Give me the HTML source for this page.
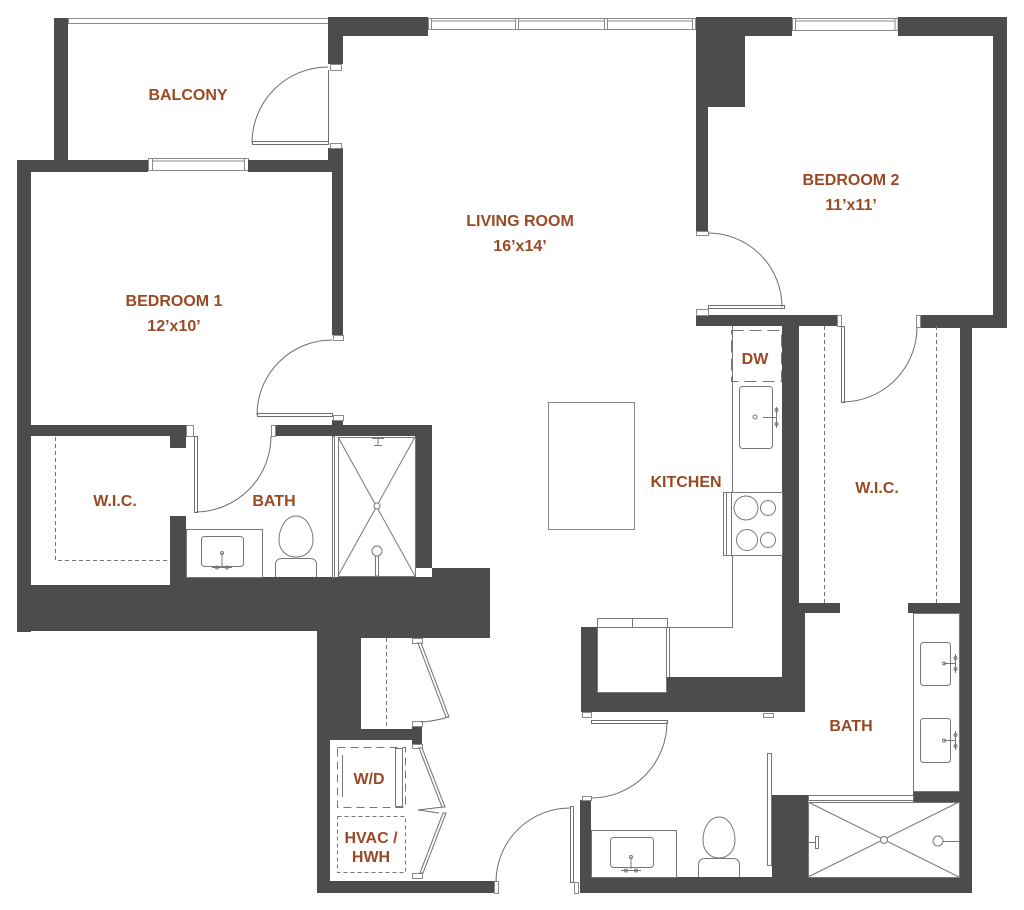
<!DOCTYPE html>
<html><head><meta charset="utf-8"><style>
html,body{margin:0;padding:0;background:#fff;}
svg{display:block;}
text{font-family:"Liberation Sans",sans-serif;font-weight:bold;font-size:16px;fill:#994a25;text-anchor:middle;}
</style></head><body>
<svg width="1024" height="910" viewBox="0 0 1024 910">
<rect width="1024" height="910" fill="#fff"/>
<g fill="#fff" stroke="#8a8a8a" stroke-width="1">
<rect x="68.5" y="18.5" width="260" height="5"/>
<rect x="428.5" y="18.5" width="268" height="11"/><line x1="428" y1="21" x2="696" y2="21"/>
<rect x="428.5" y="18.5" width="3" height="11"/><rect x="515.5" y="18.5" width="3" height="11"/><rect x="604.5" y="18.5" width="3" height="11"/><rect x="692.5" y="18.5" width="3" height="11"/>
<rect x="792.5" y="18.5" width="106" height="12"/><line x1="792" y1="21" x2="898" y2="21"/>
<rect x="792.5" y="18.5" width="3" height="12"/><rect x="895" y="18.5" width="3" height="12"/>
<rect x="148.5" y="158.5" width="100" height="12"/><line x1="148" y1="161" x2="248" y2="161"/>
<rect x="148.5" y="158.5" width="4" height="12"/><rect x="244.5" y="158.5" width="4" height="12"/>
</g>
<g fill="#4e4c4a">
<rect x="54" y="18" width="14" height="154"/>
<rect x="17" y="160" width="131" height="12"/>
<rect x="248" y="160" width="95" height="12"/>
<rect x="17" y="160" width="14" height="472"/>
<rect x="328" y="17" width="100" height="19"/>
<rect x="328" y="17" width="15" height="47"/>
<rect x="328" y="148" width="15" height="24"/>
<rect x="332" y="172" width="11" height="163"/>
<rect x="332" y="420" width="11" height="16"/>
<rect x="31" y="425" width="155" height="11"/>
<rect x="170" y="436" width="16" height="12"/>
<rect x="275" y="425" width="157" height="11"/>
<rect x="415" y="425" width="17" height="143"/>
<rect x="170" y="516" width="16" height="70"/>
<rect x="17" y="585" width="473" height="46"/>
<rect x="186" y="577" width="246" height="9"/>
<rect x="432" y="568" width="58" height="70"/>
<rect x="317" y="630" width="173" height="8"/>
<rect x="317" y="638" width="44" height="102"/>
<rect x="361" y="729" width="61" height="11"/>
<rect x="412" y="726" width="10" height="18"/>
<rect x="317" y="740" width="13" height="153"/>
<rect x="317" y="881" width="177" height="12"/>
<rect x="580" y="800" width="11" height="93"/>
<rect x="580" y="877" width="392" height="16"/>
<rect x="581" y="627" width="16" height="85"/>
<rect x="581" y="692" width="224" height="20"/>
<rect x="667" y="677" width="115" height="15"/>
<rect x="782" y="613" width="23" height="99"/>
<rect x="782" y="326" width="17" height="287"/>
<rect x="799" y="603" width="41" height="10"/>
<rect x="908" y="603" width="52" height="10"/>
<rect x="696" y="315" width="141" height="11"/>
<rect x="920" y="315" width="87" height="13"/>
<rect x="993" y="17" width="14" height="311"/>
<rect x="960" y="315" width="12" height="578"/>
<rect x="696" y="17" width="96" height="19"/>
<rect x="898" y="17" width="109" height="19"/>
<rect x="696" y="17" width="49" height="90"/>
<rect x="696" y="17" width="12" height="214"/>
<rect x="772" y="795" width="36" height="82"/>
<rect x="913" y="791" width="47" height="11"/>
</g>
<g fill="#fff" stroke="#8a8a8a" stroke-width="1">
<rect x="330.5" y="64.5" width="11" height="6"/>
<rect x="330.5" y="143.5" width="11" height="5"/>
<rect x="333.5" y="335.5" width="10" height="5"/>
<rect x="333.5" y="415.5" width="10" height="5"/>
<rect x="186.5" y="425.5" width="7" height="11"/>
<rect x="271.5" y="425.5" width="4" height="11"/>
<rect x="696.5" y="231.5" width="12" height="4"/>
<rect x="696.5" y="309.5" width="12" height="6"/>
<rect x="837.5" y="315.5" width="4" height="11"/>
<rect x="916.5" y="315.5" width="4" height="12"/>
<rect x="412.5" y="638.5" width="10" height="5"/>
<rect x="412.5" y="721.5" width="10" height="5"/>
<rect x="412.5" y="744.5" width="10" height="4"/>
<rect x="412.5" y="873.5" width="10" height="5"/>
<rect x="494.5" y="881.5" width="4" height="12"/>
<rect x="574.5" y="882.5" width="4" height="11"/>
<rect x="582.5" y="712.5" width="9" height="5"/>
<rect x="582.5" y="796.5" width="9" height="4"/>
<rect x="763.5" y="713.5" width="10" height="4"/>
</g>
<g fill="none" stroke="#6e6e6e" stroke-width="1">
<line x1="328.5" y1="70" x2="328.5" y2="143"/>
<rect x="252.5" y="141.5" width="76" height="3" fill="#fff"/>
<path d="M252,143 A76,76 0 0 1 328,67"/>
<rect x="257.5" y="413.5" width="75" height="3" fill="#fff"/>
<path d="M257,415 A75,75 0 0 1 332,340"/>
<rect x="194.5" y="436.5" width="3" height="76" fill="#fff"/>
<path d="M196,512 A76,76 0 0 0 271,436"/>
<rect x="708.5" y="305.5" width="76" height="3" fill="#fff"/>
<path d="M708,233 A74,74 0 0 1 782,307"/>
<rect x="841.5" y="326.5" width="3" height="76" fill="#fff"/>
<path d="M843,402 A75,75 0 0 0 917,327"/>
<rect x="591.5" y="720.5" width="76" height="3" fill="#fff"/>
<path d="M667,722 A76,76 0 0 1 591,798"/>
<rect x="570.5" y="806.5" width="3" height="76" fill="#fff"/>
<path d="M496,882 A74,74 0 0 1 570,808"/>
<polygon points="418,643 421,643 449,717 446,717" fill="#fff"/>
<path d="M448,717 Q436,721 421,722"/>
<polygon points="419,748 422,748 445,807 442,807" fill="#fff"/>
<polyline points="443,807 418,810 439,813"/>
<polygon points="443,813 446,813 423,873 420,873" fill="#fff"/>
</g>
<g fill="none" stroke="#777" stroke-width="1">
<polyline points="55.5,437 55.5,560.5 170,560.5" stroke-dasharray="4,3"/>
<rect x="186.5" y="529.5" width="76" height="48"/>
<rect x="201.5" y="536.5" width="42" height="30" rx="3"/>
<line x1="222" y1="553" x2="222" y2="566"/><circle cx="222" cy="553" r="1.5"/>
<line x1="212" y1="567.5" x2="232" y2="567.5"/><circle cx="217" cy="567.5" r="1.5"/><circle cx="227" cy="567.5" r="1.5"/>
<path d="M296,516 C306,516 313,528 313,540 C313,550 306,557 296,557 C286,557 279,550 279,540 C279,528 286,516 296,516 Z"/>
<path d="M275.5,577 L275.5,565 Q275.5,558.5 282,558.5 L310,558.5 Q316.5,558.5 316.5,565 L316.5,577"/>
<rect x="332.5" y="436.5" width="2" height="141"/>
<rect x="338.5" y="437.5" width="77" height="139"/>
<line x1="338" y1="437" x2="415" y2="576"/><line x1="415" y1="437" x2="338" y2="576"/>
<circle cx="377" cy="506" r="3" fill="#fff"/>
<line x1="372" y1="438.5" x2="384" y2="438.5"/><line x1="378" y1="438" x2="378" y2="445"/><line x1="374" y1="445.5" x2="382" y2="445.5"/>
<circle cx="377" cy="551" r="5" fill="#fff"/><rect x="375.5" y="556" width="3" height="20"/>
<line x1="386.5" y1="638" x2="386.5" y2="729" stroke-dasharray="4,3"/>
<rect x="337.5" y="747.5" width="68" height="60" stroke-dasharray="8,5"/>
<rect x="395.5" y="748.5" width="7" height="58"/>
<line x1="342.5" y1="755" x2="342.5" y2="797"/>
<rect x="337.5" y="816.5" width="68" height="56" stroke-dasharray="4,3"/>
<rect x="548.5" y="402.5" width="86" height="127" stroke="#888"/>
<polyline points="732.5,326 732.5,627.5 667,627.5"/>
<rect x="731.5" y="330.5" width="50" height="51" stroke-dasharray="12,6"/>
<rect x="739.5" y="386.5" width="33" height="62" rx="3"/>
<circle cx="755" cy="417" r="2"/><line x1="763" y1="417.5" x2="776" y2="417.5"/><line x1="776.5" y1="407" x2="776.5" y2="428"/>
<circle cx="776.5" cy="410" r="1.5"/><circle cx="776.5" cy="424" r="1.5"/>
<rect x="723.5" y="492.5" width="59" height="63" fill="#fff"/>
<rect x="723.5" y="492.5" width="8" height="63" fill="#fff"/><line x1="726.5" y1="493" x2="726.5" y2="555"/>
<circle cx="746" cy="508" r="12"/><circle cx="768" cy="508" r="7.5"/>
<circle cx="747" cy="540" r="10.5"/><circle cx="768" cy="540" r="7.5"/>
<rect x="597.5" y="618.5" width="35" height="9"/><rect x="632.5" y="618.5" width="35" height="9"/>
<rect x="597.5" y="627.5" width="69" height="65" fill="#fff"/>
<line x1="669.5" y1="627" x2="669.5" y2="677"/>
<line x1="824.5" y1="326" x2="824.5" y2="603" stroke-dasharray="4,3"/>
<line x1="936.5" y1="326" x2="936.5" y2="603" stroke-dasharray="4,3"/>
<rect x="913.5" y="613.5" width="46" height="178"/>
<rect x="920.5" y="642.5" width="30" height="43" rx="3"/>
<rect x="920.5" y="718.5" width="30" height="44" rx="3"/>
<line x1="944" y1="663.5" x2="955" y2="663.5"/><circle cx="944" cy="663.5" r="1.5"/><line x1="955.5" y1="654" x2="955.5" y2="673"/><circle cx="955.5" cy="658" r="1.5"/><circle cx="955.5" cy="669" r="1.5"/>
<line x1="944" y1="740.5" x2="955" y2="740.5"/><circle cx="944" cy="740.5" r="1.5"/><line x1="955.5" y1="731" x2="955.5" y2="750"/><circle cx="955.5" cy="735" r="1.5"/><circle cx="955.5" cy="746" r="1.5"/>
<rect x="808.5" y="795.5" width="105" height="5"/>
<rect x="808.5" y="802.5" width="151" height="75"/>
<line x1="808" y1="802" x2="959" y2="877"/><line x1="959" y1="802" x2="808" y2="877"/>
<circle cx="884" cy="840" r="3.5" fill="#fff"/>
<line x1="808" y1="842.5" x2="815" y2="842.5"/><rect x="815.5" y="836.5" width="3" height="12"/>
<circle cx="938" cy="841" r="5" fill="#fff"/><line x1="943" y1="841.5" x2="959" y2="841.5"/>
<rect x="767.5" y="753.5" width="4" height="112" fill="#fff"/>
<rect x="591.5" y="830.5" width="85" height="47"/>
<rect x="610.5" y="837.5" width="43" height="30" rx="3"/>
<line x1="631" y1="857" x2="631" y2="869"/><circle cx="631" cy="857" r="1.5"/>
<line x1="621" y1="870.5" x2="641" y2="870.5"/><circle cx="626" cy="870.5" r="1.5"/><circle cx="636" cy="870.5" r="1.5"/>
<path d="M719,817 C729,817 735,829 735,840 C735,851 728,858 719,858 C710,858 703,851 703,840 C703,829 709,817 719,817 Z"/>
<path d="M698.5,877 L698.5,865 Q698.5,858.5 705,858.5 L733,858.5 Q739.5,858.5 739.5,865 L739.5,877"/>
</g>
<text x="188" y="100">BALCONY</text>
<text x="520" y="226">LIVING ROOM</text>
<text x="520" y="251">16’x14’</text>
<text x="174" y="306">BEDROOM 1</text>
<text x="174" y="331">12’x10’</text>
<text x="851" y="185">BEDROOM 2</text>
<text x="851" y="210">11’x11’</text>
<text x="115" y="506">W.I.C.</text>
<text x="274" y="506">BATH</text>
<text x="686" y="487">KITCHEN</text>
<text x="755" y="364">DW</text>
<text x="877" y="493">W.I.C.</text>
<text x="851" y="731">BATH</text>
<text x="369" y="784">W/D</text>
<text x="371" y="843">HVAC /</text>
<text x="371" y="862">HWH</text>
</svg>
</body></html>
